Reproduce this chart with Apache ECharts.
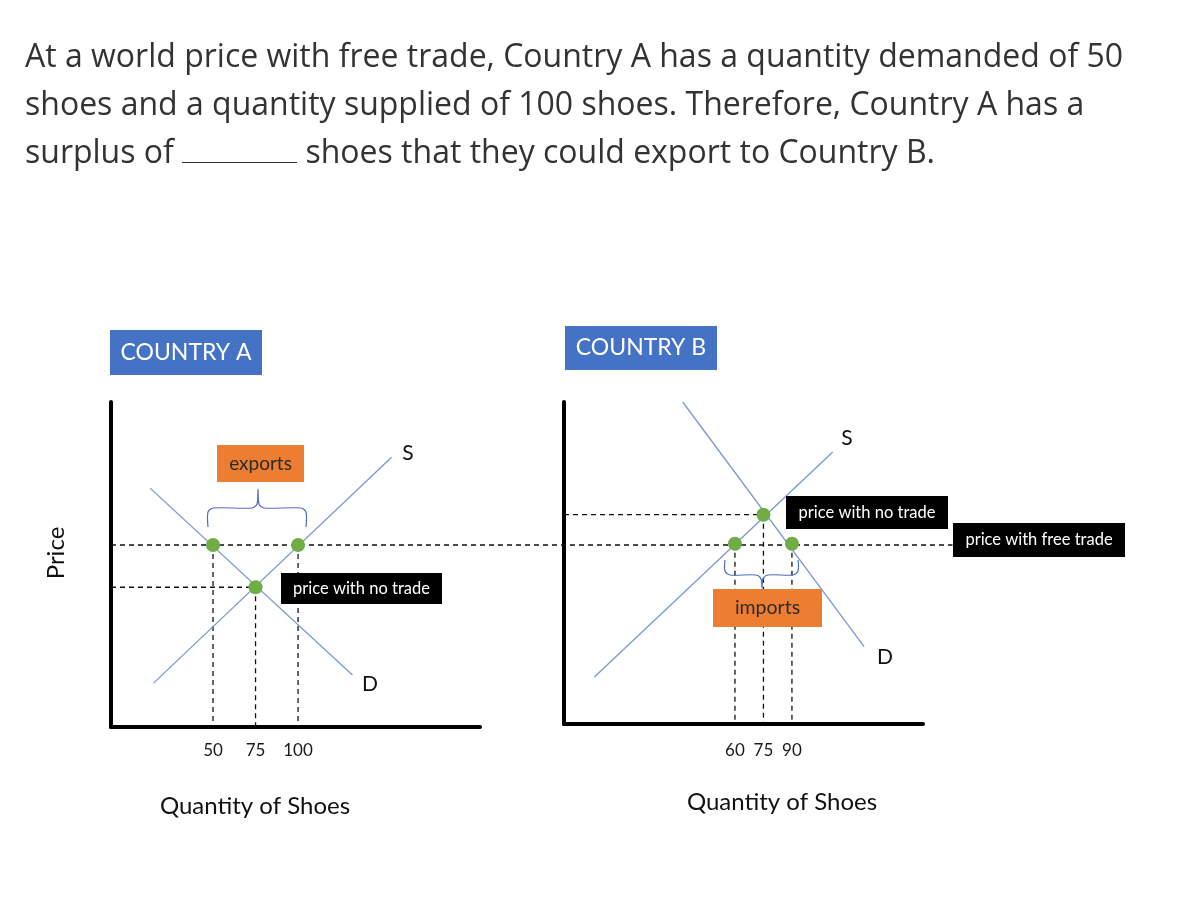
<!DOCTYPE html>
<html>
<head>
<meta charset="utf-8">
<title>Country A / Country B - shoes trade</title>
<script src="https://cdn.jsdelivr.net/npm/echarts@6/dist/echarts.min.js"></script>
<style>
  html, body { margin: 0; padding: 0; background: #fff; }
  #chart { position: absolute; left: 0; top: 0; width: 1192px; height: 898px; }
  #question {
    position: absolute; left: 25px; top: 31px; margin: 0; width: 1165px;
    font: 32px/48px "Open Sans", sans-serif; color: #333;
  }
  #question .blank {
    display: inline-block; width: 115px; border-bottom: 1.5px solid #333;
  }
</style>
</head>
<body>
<div id="chart"></div>
<p id="question">At a world price with free trade, Country A has a quantity demanded of 50<br>shoes and a quantity supplied of 100 shoes. Therefore, Country A has a<br>surplus of <span class="blank"></span> shoes that they could export to Country B.</p>
<script>
// price units are arbitrary (the price axis has no labels), quantities are shoes
const worldPrice = 56;

// Country A: demanded at world price, no-trade equilibrium, supplied at world price
const qtyA = [50, 75, 100];
const priceA = [worldPrice, 43, worldPrice];
const supplyA = [[15, 13.5], [155, 83]];
const demandA = [[13, 73.5], [132, 16]];
const ticksA = [50, 75, 100];

// Country B: supplied at world price, no-trade equilibrium, demanded at world price
const qtyB = [60, 75, 90];
const priceB = [worldPrice, 65, worldPrice];
const supplyB = [[-14, 14.6], [111.5, 84.5]];
const demandB = [[32.5, 100], [128, 24]];
const ticksB = [60, 75, 90];

const xRangeA = [-10, 207];
const xRangeB = [-30, 159];
// the world price line runs from Country A's price axis across to Country B's label,
// measured on Country A's quantity scale
const worldLine = [[-10, worldPrice], [485, worldPrice]];

const chart = echarts.init(document.getElementById("chart"));

const curveColor = "#7b98cf";
const dotColor = "#70ad47";
const dashStyle = { color: "#111", width: 1.3, type: [5, 4] };
const font = "Lato, sans-serif";

function curve(data, grid) {
  return {
    type: "line", xAxisIndex: grid, yAxisIndex: grid, data,
    symbol: "none", silent: true, z: 2,
    lineStyle: { color: curveColor, width: 1.3 },
  };
}

function dashed(data, grid) {
  return {
    type: "line", xAxisIndex: grid, yAxisIndex: grid, data,
    symbol: "none", silent: true, z: 1,
    lineStyle: dashStyle,
  };
}

function dots(qty, price, grid) {
  return {
    type: "scatter", xAxisIndex: grid, yAxisIndex: grid,
    data: qty.map((q, i) => [q, price[i]]),
    symbolSize: 14, z: 4,
    itemStyle: { color: dotColor, opacity: 1 },
  };
}

function guides(qty, price, grid) {
  return qty.map((q, i) => dashed([[q, price[i]], [q, 0]], grid));
}

function xAxis(grid, range, ticks, margin) {
  return {
    type: "value", gridIndex: grid, min: range[0], max: range[1],
    splitLine: { show: false }, axisTick: { show: false },
    axisLine: { show: true, onZero: false, lineStyle: { color: "#000", width: 4 } },
    axisLabel: { customValues: ticks, fontSize: 17, margin, color: "#1a1a1a", fontFamily: font },
  };
}

function yAxis(grid) {
  return {
    type: "value", gridIndex: grid, min: 0, max: 100,
    splitLine: { show: false }, axisTick: { show: false }, axisLabel: { show: false },
    axisLine: { show: true, onZero: false, lineStyle: { color: "#000", width: 4 } },
  };
}

function hiddenAxis(grid, min, max) {
  return { type: "value", gridIndex: grid, min, max, show: false };
}

function box(x, y, w, h, fill, text, color, size) {
  return [
    { type: "rect", z: 100, shape: { x, y, width: w, height: h }, style: { fill } },
    {
      type: "text", z: 101, x: x + w / 2, y: y + h / 2,
      style: { text, fill: color, font: `${size}px ${font}`, align: "center", verticalAlign: "middle" },
    },
  ];
}

function label(x, y, text, size, rotation = 0) {
  return {
    type: "text", z: 101, x, y, rotation,
    style: { text, fill: "#111", font: `${size}px ${font}`, align: "center", verticalAlign: "middle" },
  };
}

function brace(points) {
  return {
    type: "polyline", z: 99, shape: { points, smooth: 0.3 },
    style: { fill: null, stroke: "#4a6fbf", lineWidth: 1.2 },
  };
}

chart.setOption({
  animation: false,
  textStyle: { fontFamily: font },
  grid: [
    { left: 111, top: 402, width: 369, height: 325 },
    { left: 564, top: 402, width: 359, height: 322 },
    { left: 111, top: 402, width: 841.5, height: 325 },
  ],
  xAxis: [
    xAxis(0, xRangeA, ticksA, 15),
    xAxis(1, xRangeB, ticksB, 18),
    hiddenAxis(2, worldLine[0][0], worldLine[1][0]),
  ],
  yAxis: [yAxis(0), yAxis(1), hiddenAxis(2, 0, 100)],
  series: [
    dashed(worldLine, 2),
    dashed([[xRangeA[0], priceA[1]], [qtyA[1], priceA[1]]], 0),
    ...guides(qtyA, priceA, 0),
    curve(supplyA, 0),
    curve(demandA, 0),
    dots(qtyA, priceA, 0),

    dashed([[xRangeB[0], priceB[1]], [qtyB[1], priceB[1]]], 1),
    ...guides(qtyB, priceB, 1),
    curve(supplyB, 1),
    curve(demandB, 1),
    dots(qtyB, priceB, 1),
  ],
  graphic: [
    ...box(110, 330, 152, 45, "#4472c4", "COUNTRY A", "#fff", 23),
    ...box(565, 326, 152, 44, "#4472c4", "COUNTRY B", "#fff", 23),
    ...box(217, 445, 87, 37, "#ed7d31", "exports", "#2b2b2b", 19),
    ...box(713, 589, 109, 38, "#ed7d31", "imports", "#2b2b2b", 19.5),
    ...box(281, 573, 161, 31, "#000", "price with no trade", "#fff", 16.5),
    ...box(786, 496, 162, 33, "#000", "price with no trade", "#fff", 16.5),
    ...box(953, 523, 172, 34, "#000", "price with free trade", "#fff", 16.5),
    brace([[208, 527], [208, 512], [213, 508], [252, 508], [257, 504], [258, 489], [259, 504], [264, 508], [301, 508], [306, 512], [306, 527]]),
    brace([[725, 560], [725, 571], [730, 575], [756, 575], [761, 579], [762, 588], [763, 579], [768, 575], [793, 575], [798, 571], [798, 560]]),
    label(408, 453, "S", 21),
    label(370, 684, "D", 21),
    label(847, 438, "S", 21),
    label(885, 657, "D", 21),
    label(56, 553, "Price", 24, Math.PI / 2),
    label(255, 806, "Quantity of Shoes", 24),
    label(782, 802, "Quantity of Shoes", 24),
  ],
});

window.addEventListener("resize", () => chart.resize());
</script>
</body>
</html>
